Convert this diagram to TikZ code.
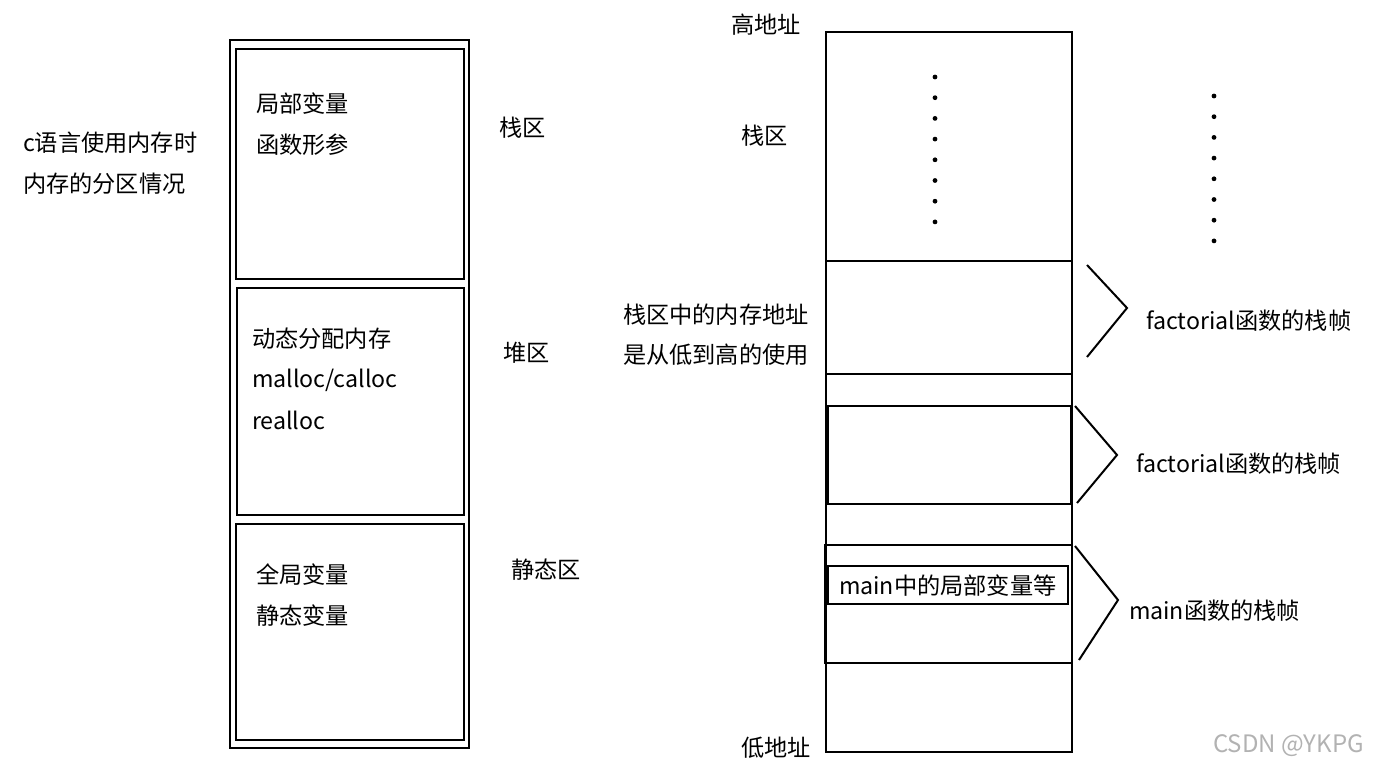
\documentclass[tikz,border=0pt]{standalone}
\usepackage{fontspec}
\setmainfont{Noto Sans CJK SC}
\begin{document}
\begin{tikzpicture}[x=0.5pt,y=-0.5pt,line width=1pt,
  lbl/.style={anchor=west,inner sep=0pt,font=\fontsize{11.6}{13}\selectfont},
  box/.style={draw}]
\useasboundingbox (0,0) rectangle (1380,770);
% left
\node[box,minimum width=119.5pt,minimum height=354pt,inner sep=0pt] (outer) at (349.5,394) {};
\draw (236,49) rectangle (464,279);
\draw (237,288) rectangle (464,515);
\draw (236,524) rectangle (464,740);
\node[lbl] (t1) at (255,104) {局部变量};
\node[lbl] (t2) at (255,145) {函数形参};
\node[lbl] (t3) at (251,339) {动态分配内存};
\node[lbl] (t4) at (251,380) {malloc/calloc};
\node[lbl] (t5) at (251,420) {realloc};
\node[lbl] (t6) at (255,575) {全局变量};
\node[lbl] (t7) at (255,616) {静态变量};
\node[lbl] (s1) at (498,128) {栈区};
\node[lbl] (s2) at (502,353) {堆区};
\node[lbl] (s3) at (510,570) {静态区};
\node[lbl] (c1) at (22,143) {c语言使用内存时};
\node[lbl] (c2) at (22,184) {内存的分区情况};
% right
\draw (826,32) rectangle (1072,752);
\draw (826,261) -- (1072,261);
\draw (826,374) -- (1072,374);
\draw (828,406) rectangle (1071,504);
\draw (825,545) rectangle (1072,663);
\draw (828,566) rectangle (1068,604);
\node[lbl] (m) at (838,586) {main中的局部变量等};
\foreach \i in {0,...,7} {
  \fill (935,{77+\i*20.7}) circle (1.2pt);
  \fill (1214,{96+\i*20.7}) circle (1.2pt);
}
\node[lbl] (h) at (730,25) {高地址};
\node[lbl] (z) at (740,136) {栈区};
\node[lbl] (a1) at (622,315) {栈区中的内存地址};
\node[lbl] (a2) at (622,355) {是从低到高的使用};
\node[lbl] (l) at (740,748) {低地址};
\draw (1087,265) -- (1127,308) -- (1087,357);
\draw (1075,406) -- (1117,455) -- (1077,503);
\draw (1075,546) -- (1118,600) -- (1079,660);
\node[lbl] (f1) at (1145,321) {factorial函数的栈帧};
\node[lbl] (f2) at (1135,464) {factorial函数的栈帧};
\node[lbl] (f3) at (1128,611) {main函数的栈帧};
\node[lbl,text=black!30,font=\fontsize{12}{14}\selectfont] (w) at (1212,746) {CSDN @YKPG};
\end{tikzpicture}
\end{document}
